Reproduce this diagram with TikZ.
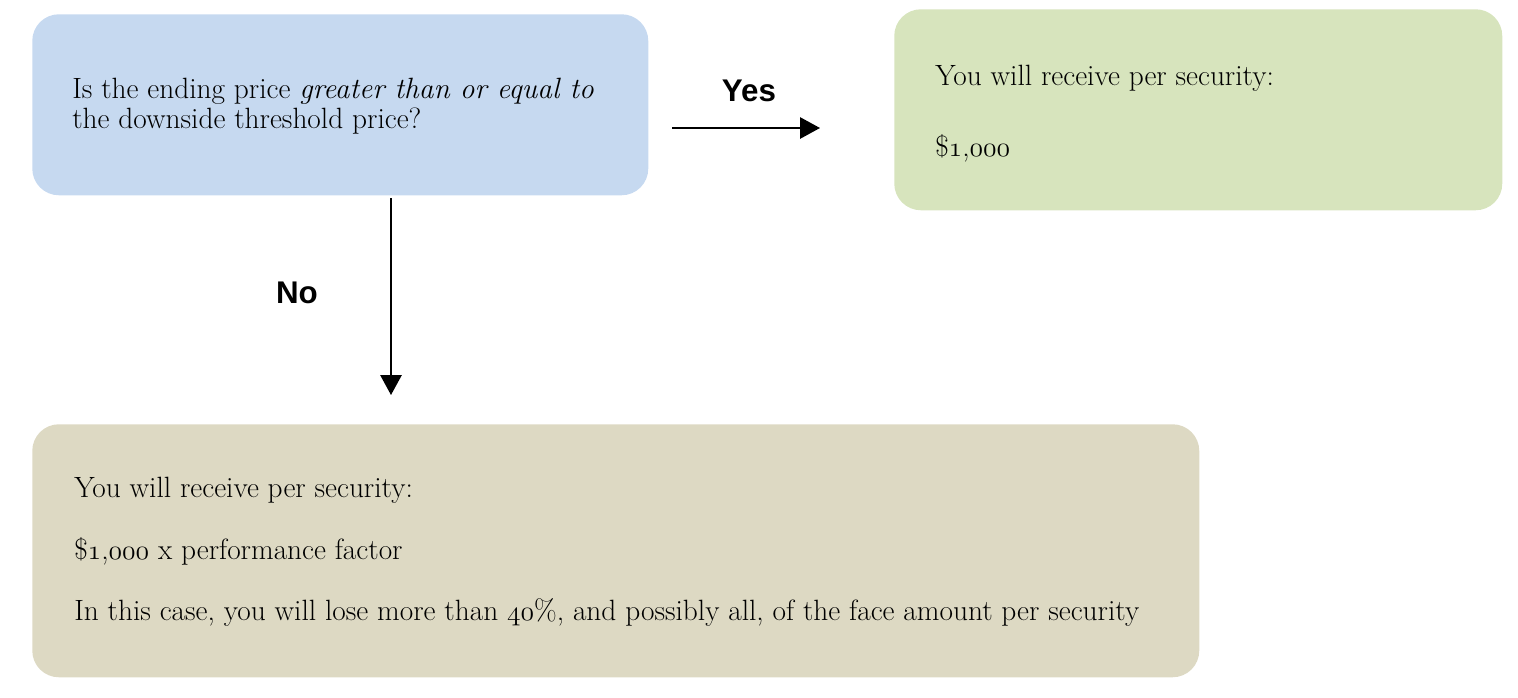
\documentclass[tikz,border=0pt]{standalone}
\usepackage{fontspec}
\newfontfamily\labelfont{Liberation Sans}
\usetikzlibrary{arrows.meta}
\newcommand\osf[1]{{\fontencoding{OML}\fontfamily{cmm}\fontseries{m}\fontshape{it}\selectfont #1}}
\definecolor{qblue}{HTML}{C6D9F0}
\definecolor{agreen}{HTML}{D7E4BD}
\definecolor{ltan}{HTML}{DDD9C3}
\tikzset{
  box/.style={anchor=north west, rounded corners=20pt, inner sep=0pt},
  txt/.style={anchor=base west, inner sep=0pt, font=\fontsize{22}{22.5}\selectfont, text=black, align=left},
  lbl/.style={inner sep=0pt, font=\labelfont\bfseries\fontsize{23.5}{26}\selectfont},
  arr/.style={line width=1.4pt, -{Triangle[length=15pt,width=16pt]}}
}
\begin{document}
\begin{tikzpicture}[x=0.75pt,y=-0.75pt]
\useasboundingbox (0,0) rectangle (1518,697);
\node[box, fill=qblue, minimum width=616*0.75pt, minimum height=181*0.75pt] (q) at (32,14) {};
\node[box, fill=agreen, minimum width=608*0.75pt, minimum height=201*0.75pt] (yesbox) at (894,9) {};
\node[box, fill=ltan, minimum width=1167*0.75pt, minimum height=253*0.75pt] (nobox) at (32,424) {};
\node[txt] (qt1) at (72,98) {Is the ending price \textit{greater than or equal to}};
\node[txt] (qt2) at (72,128) {the downside threshold price?};
\node[txt] (yt1) at (935,85) {You will receive per security:};
\node[txt] (yt2) at (935,156) {\$\osf{1},\osf{000}};
\node[txt] (nt1) at (74,497) {You will receive per security:};
\node[txt] (nt2) at (74,559) {\$\osf{1},\osf{000} x performance factor};
\node[txt] (nt3) at (74,620) {In this case, you will lose more than \osf{40}\%, and possibly all, of the face amount per security};
\coordinate (ya) at (672,128);
\coordinate (yb) at (820,128);
\coordinate (na) at (391,198);
\coordinate (nb) at (391,395);
\draw[arr] (ya) -- (yb);
\draw[arr] (na) -- (nb);
\node[lbl] (yes) at (749,91) {Yes};
\node[lbl] (no) at (297,293) {No};
\end{tikzpicture}
\end{document}
